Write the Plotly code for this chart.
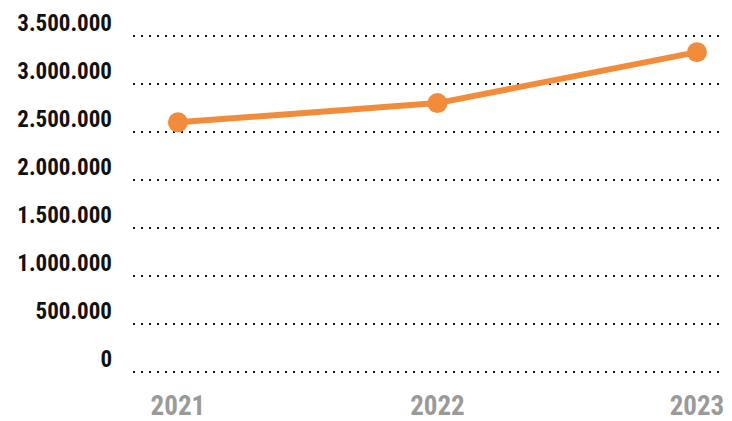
import plotly.graph_objects as go

years = ["2021", "2022", "2023"]
values = [2600000, 2800000, 3330000]
y_ticks = [0, 500000, 1000000, 1500000, 2000000, 2500000, 3000000, 3500000]
y_tick_labels = ["0", "500.000", "1.000.000", "1.500.000", "2.000.000", "2.500.000", "3.000.000", "3.500.000"]

FONT = "Roboto Condensed, Roboto, sans-serif"

fig = go.Figure()
fig.add_trace(go.Scatter(
    x=list(range(len(years))), y=values, mode="lines+markers",
    line=dict(color="#F28C3A", width=6),
    marker=dict(color="#F28C3A", size=20),
    cliponaxis=False, hoverinfo="skip"
))

fig.update_layout(
    width=724, height=413,
    margin=dict(l=125, r=0, t=23, b=44),
    paper_bgcolor="white", plot_bgcolor="white",
    showlegend=False,
    font=dict(family=FONT),
    xaxis=dict(
        tickmode="array", tickvals=list(range(len(years))), ticktext=years,
        range=[-0.173, 2.135], showgrid=False, zeroline=False, showline=False,
        tickfont=dict(size=27, color="#9a9a9a", family=FONT, weight="bold"),
        ticks="", ticklabelstandoff=10, automargin=False,
    ),
    yaxis=dict(
        tickmode="array", tickvals=y_ticks, ticktext=y_tick_labels,
        range=[-50000, 3550000], showgrid=True, gridcolor="#111111", gridwidth=2,
        griddash="2px,6px", zeroline=False, showline=False,
        tickfont=dict(size=23, color="#111111", family=FONT, weight="bold"),
        ticks="", ticklabelposition="outside top", ticklabelstandoff=20,
        ticklabelshift=3, automargin=False,
    ),
)

fig.write_html("out.html")
